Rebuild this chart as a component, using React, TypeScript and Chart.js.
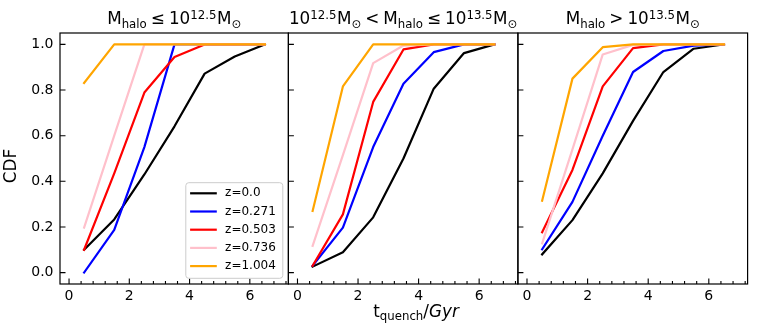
import React, { useEffect, useRef } from "react";
import { Chart, registerables } from "chart.js";

Chart.register(...registerables);

// ---------------- data ----------------
const tQuench = [0.5, 1.5, 2.5, 3.5, 4.5, 5.5, 6.5];
const redshiftLabels = ["z=0.0", "z=0.271", "z=0.503", "z=0.736", "z=1.004"];
const seriesColors = ["#000000", "#0000ff", "#ff0000", "#ffc0cb", "#ffa500"];

// panel 1: M_halo <= 10^12.5
const lowZ0 = [0.1, 0.233, 0.43, 0.641, 0.872, 0.947, 1.0];
const lowZ1 = [0.0, 0.187, 0.55, 1.0, 1.0, 1.0, 1.0];
const lowZ2 = [0.1, 0.435, 0.789, 0.945, 1.0, 1.0, 1.0];
const lowZ3 = [0.197, 0.6, 1.0, 1.0, 1.0, 1.0, 1.0];
const lowZ4 = [0.831, 1.0, 1.0, 1.0, 1.0, 1.0, 1.0];

// panel 2: 10^12.5 < M_halo <= 10^13.5
const midZ0 = [0.026, 0.089, 0.242, 0.5, 0.806, 0.962, 1.0];
const midZ1 = [0.03, 0.197, 0.55, 0.828, 0.966, 1.0, 1.0];
const midZ2 = [0.03, 0.255, 0.748, 0.978, 1.0, 1.0, 1.0];
const midZ3 = [0.117, 0.515, 0.918, 0.995, 1.0, 1.0, 1.0];
const midZ4 = [0.27, 0.816, 1.0, 1.0, 1.0, 1.0, 1.0];

// panel 3: M_halo > 10^13.5
const highZ0 = [0.08, 0.23, 0.435, 0.665, 0.879, 0.981, 1.0];
const highZ1 = [0.102, 0.31, 0.6, 0.879, 0.971, 0.995, 1.0];
const highZ2 = [0.177, 0.45, 0.816, 0.984, 1.0, 1.0, 1.0];
const highZ3 = [0.128, 0.54, 0.956, 0.998, 1.0, 1.0, 1.0];
const highZ4 = [0.315, 0.85, 0.988, 1.0, 1.0, 1.0, 1.0];

const xMajorTicks = [0, 2, 4, 6];
const xMinorTicks = [0.4, 0.8, 1.2, 1.6, 2.4, 2.8, 3.2, 3.6, 4.4, 4.8, 5.2, 5.6, 6.4, 6.8, 7.2];
const yMajorTicks = [0, 0.2, 0.4, 0.6, 0.8, 1.0];
const X_MIN = -0.3;
const X_MAX = 7.28;
const Y_MIN = -0.05;
const Y_MAX = 1.05;

// ---------------- layout / style ----------------
const W = 764;
const H = 325;
const FONT = "'DejaVu Sans', sans-serif";
const AREA_TOP = 33;
const AREA_BOTTOM = 284;
const panelAreas = [
  { left: 60, right: 288.4 },
  { left: 288.4, right: 517.9 },
  { left: 517.9, right: 747.6 },
];
const MAJOR_LEN = 5.5;
const MINOR_LEN = 3;
const LABEL_SIZE = 16.8;

type Seg = { t: string; s?: number; dy?: number; gap?: number; italic?: boolean };

function segFont(size: number, seg: Seg) {
  return `${seg.italic ? "italic " : ""}${size * (seg.s ?? 1)}px ${FONT}`;
}

function drawMath(
  ctx: CanvasRenderingContext2D,
  segs: Seg[],
  x: number,
  y: number,
  size: number,
  align: "left" | "center"
) {
  ctx.save();
  ctx.textBaseline = "alphabetic";
  ctx.textAlign = "left";
  ctx.fillStyle = "#000";
  const widths: number[] = [];
  let total = 0;
  for (const seg of segs) {
    ctx.font = segFont(size, seg);
    const w = ctx.measureText(seg.t).width;
    widths.push(w);
    total += (seg.gap ?? 0) * size + w;
  }
  let cx = align === "center" ? x - total / 2 : x;
  segs.forEach((seg, i) => {
    cx += (seg.gap ?? 0) * size;
    ctx.font = segFont(size, seg);
    ctx.fillText(seg.t, cx, y + (seg.dy ?? 0) * size);
    cx += widths[i];
  });
  ctx.restore();
}

const SUB = 0.2;
const SUP = -0.33;
const REL = 0.24;

const mHalo: Seg[] = [{ t: "M" }, { t: "halo", s: 0.7, dy: SUB }];
const tenTo = (e: string, gap = 0): Seg[] => [
  { t: "10", gap },
  { t: e, s: 0.7, dy: SUP },
  { t: "M", gap: 0.03 },
  { t: "\u2299", s: 0.7, dy: SUB },
];

const panelTitles: Seg[][] = [
  [...mHalo, { t: "\u2264", gap: REL }, ...tenTo("12.5", REL)],
  [
    ...tenTo("12.5"),
    { t: "<", gap: REL },
    { t: "M", gap: REL },
    { t: "halo", s: 0.7, dy: SUB },
    { t: "\u2264", gap: REL },
    ...tenTo("13.5", REL),
  ],
  [...mHalo, { t: ">", gap: REL }, ...tenTo("13.5", REL)],
];

const xTitle: Seg[] = [
  { t: "t" },
  { t: "quench", s: 0.7, dy: SUB },
  { t: "/" },
  { t: "Gyr", italic: true },
];

const panelSeries = [
  [lowZ0, lowZ1, lowZ2, lowZ3, lowZ4],
  [midZ0, midZ1, midZ2, midZ3, midZ4],
  [highZ0, highZ1, highZ2, highZ3, highZ4],
];

function makeDecor(index: number) {
  return {
    id: "decor" + index,
    afterDatasetsDraw(chart: any) {
      const { ctx, chartArea: ca, scales } = chart;
      const x = scales.x;
      const y = scales.y;
      ctx.save();
      ctx.strokeStyle = "#000";
      ctx.lineWidth = 1.1;
      ctx.beginPath();
      for (const v of xMajorTicks) {
        const px = x.getPixelForValue(v);
        ctx.moveTo(px, ca.bottom);
        ctx.lineTo(px, ca.bottom - MAJOR_LEN);
      }
      for (const v of xMinorTicks) {
        if (v < X_MIN || v > X_MAX) continue;
        const px = x.getPixelForValue(v);
        ctx.moveTo(px, ca.bottom);
        ctx.lineTo(px, ca.bottom - MINOR_LEN);
      }
      for (const v of yMajorTicks) {
        const py = y.getPixelForValue(v);
        ctx.moveTo(ca.left, py);
        ctx.lineTo(ca.left + MAJOR_LEN, py);
      }
      ctx.stroke();
      ctx.lineWidth = 1.2;
      ctx.strokeRect(ca.left, ca.top, ca.right - ca.left, ca.bottom - ca.top);
      ctx.restore();
    },
    afterDraw(chart: any) {
      const { ctx, chartArea: ca } = chart;
      drawMath(ctx, panelTitles[index], (ca.left + ca.right) / 2, 24.3, LABEL_SIZE, "center");
      if (index === 0) {
        // y label
        ctx.save();
        ctx.translate(12, 166);
        ctx.rotate(-Math.PI / 2);
        ctx.font = `${LABEL_SIZE}px ${FONT}`;
        ctx.fillStyle = "#000";
        ctx.textAlign = "center";
        ctx.textBaseline = "middle";
        ctx.fillText("CDF", 0, 0);
        ctx.restore();
        // legend
        const bw = 97;
        const bh = 95.6;
        const bx = ca.right - 5.6 - bw;
        const by = ca.bottom - 5.7 - bh;
        ctx.save();
        ctx.beginPath();
        ctx.roundRect(bx, by, bw, bh, 3);
        ctx.fillStyle = "rgba(255,255,255,0.8)";
        ctx.fill();
        ctx.strokeStyle = "#cccccc";
        ctx.lineWidth = 1;
        ctx.stroke();
        ctx.font = `12px ${FONT}`;
        ctx.textBaseline = "middle";
        ctx.textAlign = "left";
        redshiftLabels.forEach((lab, i) => {
          const ry = by + 10.6 + i * 18.2;
          ctx.beginPath();
          ctx.strokeStyle = seriesColors[i];
          ctx.lineWidth = 2.2;
          ctx.moveTo(bx + 4.3, ry);
          ctx.lineTo(bx + 31, ry);
          ctx.stroke();
          ctx.fillStyle = "#000";
          ctx.fillText(lab, bx + 39.3, ry);
        });
        ctx.restore();
      }
      if (index === 1) {
        drawMath(ctx, xTitle, 416, 317, LABEL_SIZE, "center");
      }
    },
  };
}

function Panel({ index }: { index: number }) {
  const ref = useRef<HTMLCanvasElement>(null);
  useEffect(() => {
    const area = panelAreas[index];
    const showY = index === 0;
    const series = panelSeries[index];
    const chart = new Chart(ref.current as HTMLCanvasElement, {
      type: "line",
      data: {
        datasets: series.map((vals, i) => ({
          label: redshiftLabels[i],
          data: tQuench.map((xv, j) => ({ x: xv, y: vals[j] })),
          borderColor: seriesColors[i],
          backgroundColor: seriesColors[i],
          borderWidth: 2.2,
          pointRadius: 0,
          pointHoverRadius: 0,
          tension: 0,
          fill: false,
          borderJoinStyle: "round",
          borderCapStyle: "square",
          order: series.length - i,
        })),
      },
      options: {
        animation: false,
        responsive: false,
        maintainAspectRatio: false,
        events: [],
        layout: {
          padding: {
            left: showY ? 0 : area.left,
            right: W - area.right,
            top: AREA_TOP,
            bottom: 0,
          },
        },
        plugins: {
          legend: { display: false },
          tooltip: { enabled: false },
          title: { display: false },
        },
        scales: {
          x: {
            type: "linear",
            min: X_MIN,
            max: X_MAX,
            afterBuildTicks: (s: any) => {
              s.ticks = xMajorTicks.map((v) => ({ value: v }));
            },
            afterFit: (s: any) => {
              s.height = H - AREA_BOTTOM;
            },
            grid: { display: false, drawTicks: false },
            border: { display: false },
            ticks: {
              font: { family: FONT, size: 14 },
              color: "#000",
              padding: 4.2,
              maxRotation: 0,
              autoSkip: false,
              callback: (v: any) => String(v),
            },
          },
          y: {
            type: "linear",
            min: Y_MIN,
            max: Y_MAX,
            afterBuildTicks: (s: any) => {
              s.ticks = yMajorTicks.map((v) => ({ value: v }));
            },
            afterFit: (s: any) => {
              s.width = showY ? area.left : 0;
            },
            grid: { display: false, drawTicks: false },
            border: { display: false },
            ticks: {
              display: showY,
              font: { family: FONT, size: 14 },
              color: "#000",
              padding: 6.5,
              autoSkip: false,
              callback: (v: any) => Number(v).toFixed(1),
            },
          },
        },
      } as any,
      plugins: [makeDecor(index)],
    });
    return () => chart.destroy();
  }, [index]);
  return (
    <canvas
      ref={ref}
      width={W}
      height={H}
      style={{ position: "absolute", left: 0, top: 0, width: W, height: H }}
    />
  );
}

export default function App() {
  return (
    <div style={{ position: "absolute", left: 0, top: 0, width: W, height: H, background: "#fff" }}>
      <Panel index={0} />
      <Panel index={1} />
      <Panel index={2} />
    </div>
  );
}
